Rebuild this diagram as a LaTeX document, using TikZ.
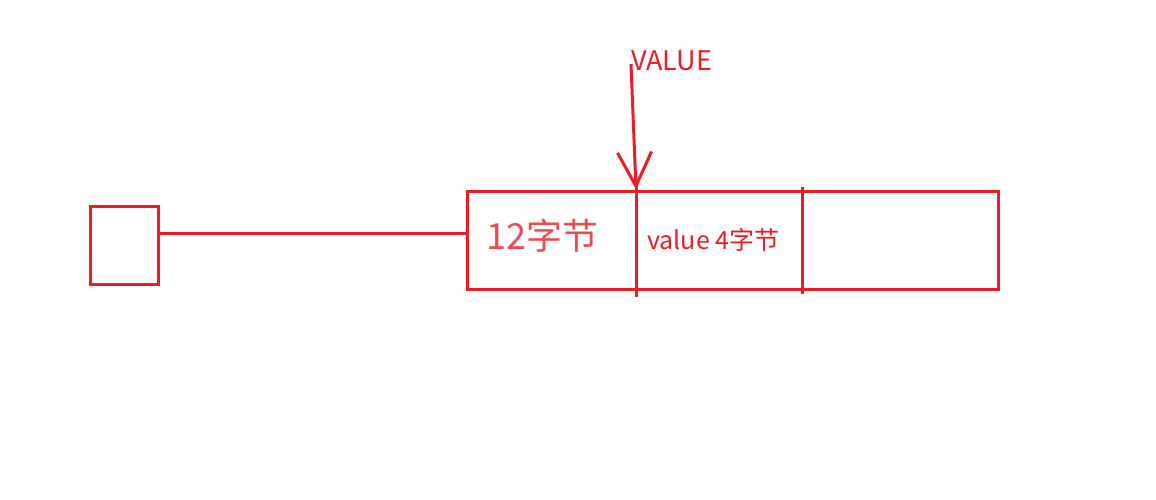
\documentclass[tikz,border=0pt]{standalone}
\usepackage{fontspec}
\setmainfont{Noto Sans CJK SC}
\usepackage{xcolor}
\usetikzlibrary{arrows.meta,positioning,calc}
\definecolor{pen}{RGB}{237,28,36}
\begin{document}
\begin{tikzpicture}[x=1pt, y=-1pt, >={Straight Barb[length=34pt,width=34pt]}]
\tikzstyle{cell}=[draw=pen, line width=3pt, inner sep=0pt]
\tikzstyle{lbl}=[text=pen, inner sep=0pt, anchor=west]
\useasboundingbox (0,0) rectangle (1156,500);
% pointer box and object
\node[cell, minimum width=68pt, minimum height=78pt] (ref) at (124,245) {};
\node[cell, minimum width=531pt, minimum height=98pt] (obj) at (732.5,240) {};
\coordinate (cut1) at (636,240);
\coordinate (cut2) at (802,240);
\draw[pen, line width=3pt] ($(cut1)+(0,-55)$) -- ($(cut1)+(0,57)$);
\draw[pen, line width=3pt] ($(cut2)+(0,-53)$) -- ($(cut2)+(0,54)$);
\draw[pen, line width=3pt] (ref.east |- 0,233) -- (obj.west |- 0,233);
% texts
\node[lbl, font=\fontsize{36}{36}\selectfont, text=pen!80] (hdr) at (486,236) {12字节};
\node[lbl, font=\fontsize{25}{25}\selectfont] (val) at (647,240) {value 4字节};
\node[lbl, font=\fontsize{27}{27}\selectfont] (name) at (631,61) {VALUE};
% offset arrow
\coordinate (vtop) at (631,64);
\draw[->, pen, line width=3pt] (vtop) -- (cut1 |- obj.north);
\end{tikzpicture}
\end{document}
